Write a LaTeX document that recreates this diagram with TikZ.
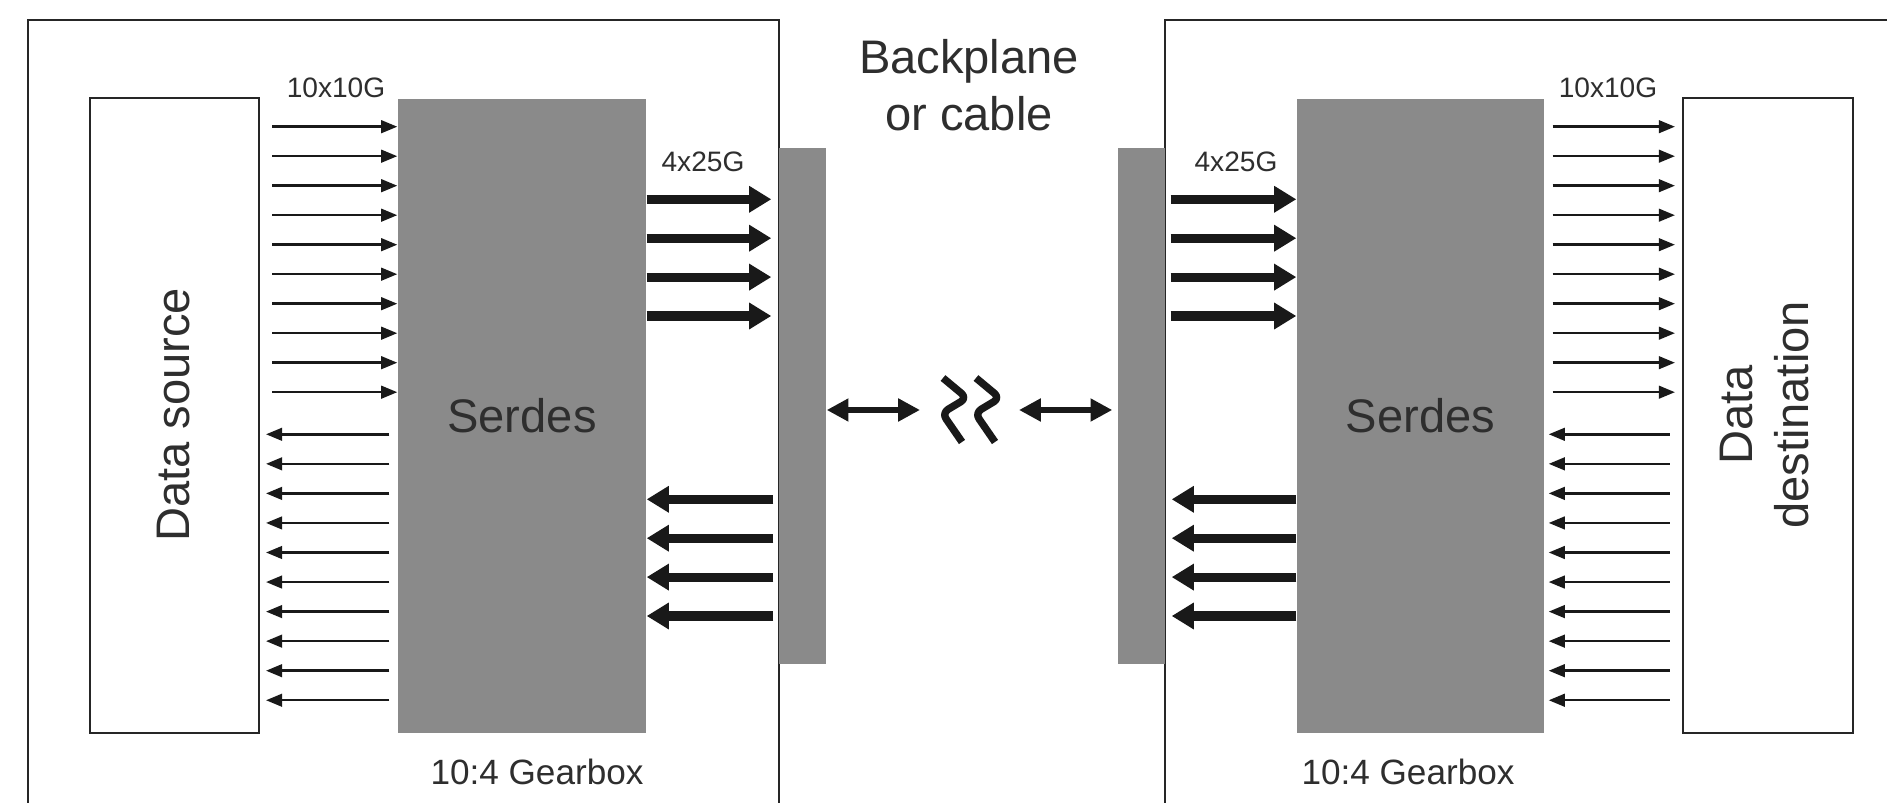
\documentclass[tikz,border=0pt]{standalone}
\usepackage{fontspec}
\setmainfont{Liberation Sans}
\usetikzlibrary{arrows.meta}
\definecolor{boxgray}{HTML}{8A8A8A}
\definecolor{txtgray}{HTML}{2E2E2E}
\begin{document}
\begin{tikzpicture}[gray_box/.style={rectangle,fill=boxgray,draw=none,inner sep=0pt},white_box/.style={rectangle,fill=white,draw=black!85,line width=0.6pt,inner sep=0pt},thin_arrow/.style={draw=black!90,line width=0.7pt,-{Triangle[length=4.6pt,width=3.6pt]}},thick_arrow/.style={draw=black!90,line width=2.6pt,-{Triangle[length=6.3pt,width=7.2pt]}},link_arrow/.style={draw=black!90,line width=1.6pt,{Triangle[length=6.2pt,width=6.2pt]}-{Triangle[length=6.2pt,width=6.2pt]}},big_text/.style={text=txtgray,font=\fontsize{13.4}{16.2}\selectfont,inner sep=0pt},mid_text/.style={text=txtgray,font=\fontsize{10}{12}\selectfont,inner sep=0pt},small_text/.style={text=txtgray,font=\fontsize{8}{10}\selectfont,inner sep=0pt}]
		
		\useasboundingbox (0,0) rectangle (18.87,-8.03);
		
		% line cards
		\draw[line width=0.7pt,draw=black!85] (0.28,-8.03) -- (0.28,-0.20) -- (7.79,-0.20) -- (7.79,-8.03);
		\draw[line width=0.7pt,draw=black!85] (18.87,-0.20) -- (11.65,-0.20) -- (11.65,-8.03);
		
		\node[white_box,minimum width=1.69cm,minimum height=6.35cm] (src) at (1.745,-4.155) {};
		\node[big_text,rotate=90] (src_label) at (1.74,-4.15) {Data source};
		\node[gray_box,big_text,minimum width=2.48cm,minimum height=6.34cm] (serdes_l) at (5.22,-4.16) {Serdes};
		\node[gray_box,minimum width=0.47cm,minimum height=5.16cm] (port_l) at (8.025,-4.06) {};
		\node[gray_box,minimum width=0.47cm,minimum height=5.16cm] (port_r) at (11.415,-4.06) {};
		\node[gray_box,big_text,minimum width=2.47cm,minimum height=6.34cm] (serdes_r) at (14.205,-4.16) {Serdes};
		\node[white_box,minimum width=1.70cm,minimum height=6.35cm] (dst) at (17.68,-4.155) {};
		\node[big_text,rotate=90,align=center] (dst_label) at (17.645,-4.15) {Data\\destination};
		
		\node[small_text] (rate_l_in) at (3.36,-0.88) {10x10G};
		\node[small_text] (rate_l_out) at (7.03,-1.62) {4x25G};
		\node[small_text] (rate_r_in) at (12.36,-1.62) {4x25G};
		\node[small_text] (rate_r_out) at (16.08,-0.88) {10x10G};
		\node[mid_text] (gear_l) at (5.37,-7.72) {10:4 Gearbox};
		\node[mid_text] (gear_r) at (14.08,-7.72) {10:4 Gearbox};
		\node[big_text,align=center] (medium) at (9.69,-0.85) {Backplane\\or cable};
		
		% 10G lanes
		\foreach \i in {0,...,9} {
			\coordinate (a\i) at (2.72,{-1.267-0.295*\i});
			\coordinate (b\i) at (2.66,{-4.343-0.2955*\i});
			\draw[thin_arrow] (a\i) -- (serdes_l.west |- a\i);
			\draw[thin_arrow,shorten <=0.08cm] (serdes_l.west |- b\i) -- (b\i);
			\draw[thin_arrow,shorten <=0.08cm,shorten >=0.07cm] (serdes_r.east |- a\i) -- (dst.west |- a\i);
			\draw[thin_arrow,shorten <=0.12cm,shorten >=0.04cm] (dst.west |- b\i) -- (serdes_r.east |- b\i);
		}
		
		% 25G lanes
		\foreach \i in {0,...,3} {
			\coordinate (c\i) at (7.0,{-1.993-0.389*\i});
			\coordinate (d\i) at (7.0,{-4.993-0.389*\i});
			\draw[thick_arrow,shorten >=0.07cm] (serdes_l.east |- c\i) -- (port_l.west |- c\i);
			\draw[thick_arrow,shorten <=0.05cm] (port_l.west |- d\i) -- (serdes_l.east |- d\i);
			\draw[thick_arrow,shorten <=0.05cm] (port_r.east |- c\i) -- (serdes_r.west |- c\i);
			\draw[thick_arrow,shorten >=0.06cm] (serdes_r.west |- d\i) -- (port_r.east |- d\i);
		}
		
		\coordinate (gap_l) at (9.20,-4.10);
		\coordinate (gap_r) at (10.19,-4.10);
		\draw[link_arrow] (port_l.east |- gap_l) -- (gap_l);
		\draw[link_arrow,shorten >=0.05cm] (gap_r) -- (port_r.west |- gap_r);
		
		% break in the channel
		\draw[line width=2.1pt,draw=black!90,line join=round,rounded corners=2pt] (9.43,-3.78) -- (9.67,-3.98) -- (9.42,-4.13) -- (9.62,-4.42);
		\draw[line width=2.1pt,draw=black!90,line join=round,rounded corners=2pt] (9.76,-3.78) -- (10.00,-3.98) -- (9.75,-4.13) -- (9.95,-4.42);
		\end{tikzpicture}
\end{document}
